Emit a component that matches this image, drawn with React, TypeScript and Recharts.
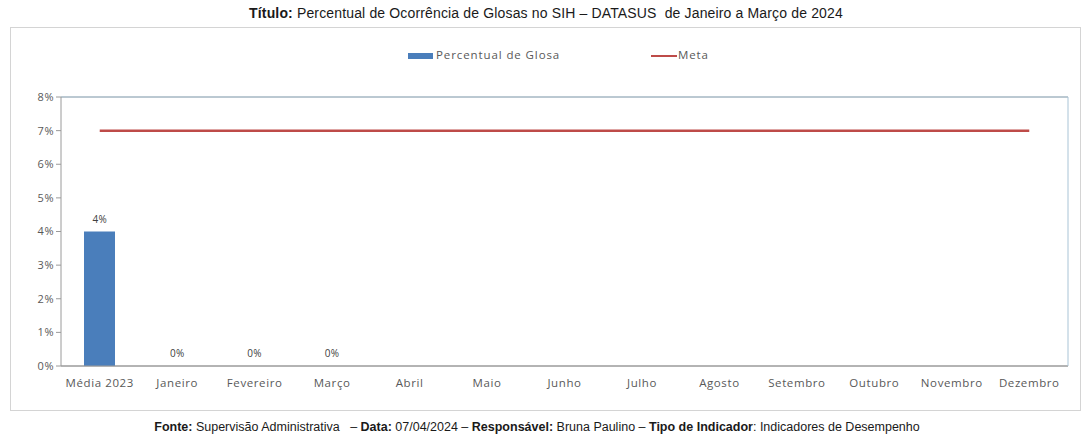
import { Bar, Line, XAxis, YAxis, CartesianGrid, Legend, LabelList, ReferenceLine, ComposedChart } from "recharts";

const categorias = ["Média 2023", "Janeiro", "Fevereiro", "Março", "Abril", "Maio", "Junho", "Julho", "Agosto", "Setembro", "Outubro", "Novembro", "Dezembro"];
const percentualGlosa: (number | null)[] = [4, 0, 0, 0, null, null, null, null, null, null, null, null, null];
const meta = [7, 7, 7, 7, 7, 7, 7, 7, 7, 7, 7, 7, 7];
const yTicks = [0, 1, 2, 3, 4, 5, 6, 7, 8];

const data = categorias.map((name, i) => ({
  name,
  glosa: percentualGlosa[i],
  meta: meta[i],
}));

const FONT = "'Open Sans', 'DejaVu Sans', sans-serif";
const AXIS_COLOR = "#595959";

function LegendBox() {
  return (
    <div style={{ position: "relative", height: 20, fontFamily: FONT, fontSize: 11.5, letterSpacing: 0.9, color: "#595959" }}>
      <div style={{ position: "absolute", left: 397, top: 7, width: 25, height: 6, background: "#4a7ebb" }} />
      <span style={{ position: "absolute", left: 425, top: 1 }}>Percentual de Glosa</span>
      <div style={{ position: "absolute", left: 640, top: 9, width: 26, height: 2, background: "#be4b48" }} />
      <span style={{ position: "absolute", left: 667, top: 1 }}>Meta</span>
    </div>
  );
}

export default function App() {
  return (
    <div style={{ position: "fixed", left: 0, top: 0, width: 1092, height: 446, background: "#fff", fontFamily: "'Liberation Sans', Arial, sans-serif" }}>
      <div style={{ position: "absolute", left: 0, top: 5, width: 1092, textAlign: "center", fontSize: 14, letterSpacing: 0.15, color: "#1a1a1a" }}>
        <b>Título:</b> Percentual de Ocorrência de Glosas no SIH – DATASUS&nbsp; de Janeiro a Março de 2024
      </div>
      <div style={{ position: "absolute", left: 10, top: 27, width: 1071, height: 384, border: "1px solid #d4d4d4", boxSizing: "border-box" }}>
        <ComposedChart
          width={1071}
          height={384}
          data={data}
          margin={{ top: 49, right: 13, bottom: 14, left: 0 }}
        >
          <CartesianGrid vertical={false} stroke="#9a9a9a" />
          <ReferenceLine y={8} stroke="#a9c4d6" yAxisId="left" />
          <Legend
            verticalAlign="top"
            align="left"
            wrapperStyle={{ top: 18, left: 0, width: 1071 }}
            content={() => <LegendBox />}
          />
          <XAxis
            dataKey="name"
            tickLine={false}
            axisLine={{ stroke: "#9a9a9a" }}
            tick={{ fontFamily: FONT, fontSize: 11.5, fill: AXIS_COLOR, letterSpacing: 0.6 }}
            tickMargin={7}
            height={32}
            interval={0}
          />
          <YAxis
            yAxisId="left"
            domain={[0, 8]}
            ticks={yTicks}
            tickFormatter={(v: number) => `${v}%`}
            axisLine={{ stroke: "#9a9a9a" }}
            tickLine={{ stroke: "#9a9a9a" }}
            tickSize={5}
            tick={{ fontFamily: FONT, fontSize: 11, fill: AXIS_COLOR, letterSpacing: 0.5 }}
            width={50}
          />
          <YAxis
            yAxisId="right"
            orientation="right"
            domain={[0, 8]}
            ticks={yTicks}
            axisLine={{ stroke: "#a9c4d6" }}
            tickLine={false}
            tick={false}
            width={1}
          />
          <Bar yAxisId="left" dataKey="glosa" fill="#4a7ebb" barSize={31} isAnimationActive={false} />
          <Line yAxisId="left" dataKey="glosa" stroke="none" dot={false} legendType="none" isAnimationActive={false}>
            <LabelList
              dataKey="glosa"
              position="top"
              offset={9}
              formatter={(v: any) => (v === null || v === undefined ? "" : `${v}%`)}
              style={{ fontFamily: FONT, fontSize: 10, fill: "#404040", letterSpacing: 0.3 }}
            />
          </Line>
          <Line yAxisId="left" dataKey="meta" stroke="#be4b48" strokeWidth={2.5} dot={false} isAnimationActive={false} />
        </ComposedChart>
      </div>
      <div style={{ position: "absolute", left: 0, top: 420, width: 1074, textAlign: "center", fontSize: 12.5, color: "#1a1a1a" }}>
        <b>Fonte:</b> Supervisão Administrativa &nbsp; – <b>Data:</b> 07/04/2024 – <b>Responsável:</b> Bruna Paulino – <b>Tipo de Indicador</b>: Indicadores de Desempenho
      </div>
    </div>
  );
}
